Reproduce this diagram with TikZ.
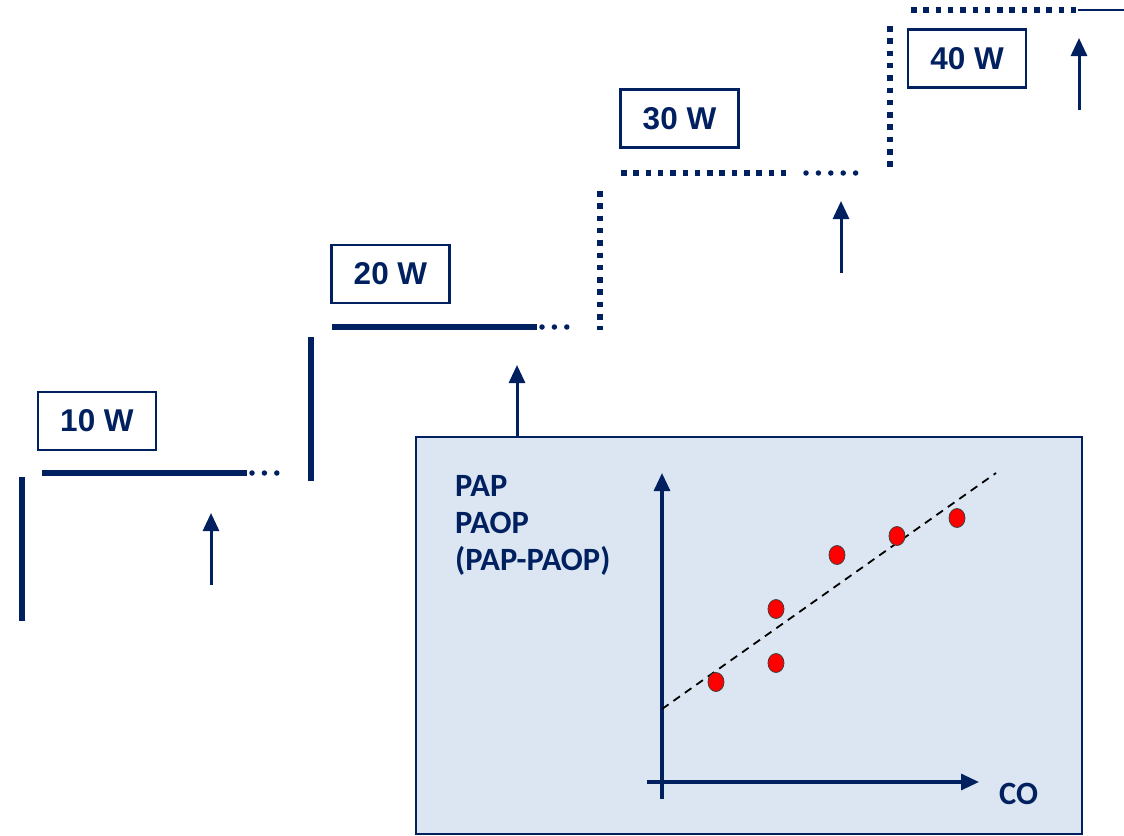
\documentclass[tikz,border=0pt]{standalone}
\usepackage{fontspec}
\setmainfont{Liberation Sans}
\newfontfamily\calibri{Carlito}
\usetikzlibrary{positioning,arrows.meta,calc,shapes.geometric}
\definecolor{navy}{HTML}{002060}
\definecolor{panel}{HTML}{DCE6F2}

\begin{document}
\begin{tikzpicture}[x=1pt,y=-1pt,>={Triangle[width=16pt,length=18pt]},
   wattbox/.style={draw=navy,text=navy,line width=2.2pt,minimum width=118pt,minimum height=58pt,
     inner sep=0pt,font=\fontsize{31.5}{34}\selectfont\bfseries},
   level/.style={draw=navy,line width=5.5pt},
   squares/.style={draw=navy,line width=5.5pt,dash pattern=on 5.5pt off 6.8pt},
   fade/.style={draw=navy,line width=5.5pt,line cap=round,dash pattern=on 0pt off 12.4pt},
   rise/.style={draw=navy,line width=3pt,->},
   axis/.style={draw=navy,line width=3.2pt},
   label/.style={text=navy,inner sep=0pt,font=\calibri\bfseries\fontsize{32.5}{37}\selectfont},
   dot/.style={ellipse,draw=black!75,fill=red,line width=0.8pt,inner sep=0pt,
     minimum width=16pt,minimum height=19pt}]
  \useasboundingbox (0,0) rectangle (1124,835);

  % power steps
  \node[wattbox] (w10) at (97,421)    {10 W};
  \node[wattbox] (w20) at (390.5,274) {20 W};
  \node[wattbox] (w30) at (679.5,118.5) {30 W};
  \node[wattbox] (w40) at (967,58.5)  {40 W};

  \coordinate (s10a) at (22,477);   \coordinate (s10b) at (22,621);
  \coordinate (l10a) at (42,473);   \coordinate (l10b) at (247,473);
  \coordinate (f10a) at (252,473);  \coordinate (f10b) at (278,473);
  \coordinate (s20a) at (311,337);  \coordinate (s20b) at (311,481);
  \coordinate (l20a) at (332,327);  \coordinate (l20b) at (537,327);
  \coordinate (f20a) at (542,327);  \coordinate (f20b) at (567,327);
  \coordinate (s30a) at (600,191);  \coordinate (s30b) at (600,330);
  \coordinate (l30a) at (621,173);  \coordinate (l30b) at (790,173);
  \coordinate (f30a) at (806,173);  \coordinate (f30b) at (857,173);
  \coordinate (s40a) at (890,26);   \coordinate (s40b) at (890,168);
  \coordinate (l40a) at (911,10);   \coordinate (l40b) at (1078,10);
  \coordinate (e40)  at (1124,10);

  \draw[level] (s10a) -- (s10b);
  \draw[level] (l10a) -- (l10b);
  \draw[fade]  (f10a) -- (f10b);
  \draw[level] (s20a) -- (s20b);
  \draw[level] (l20a) -- (l20b);
  \draw[fade]  (f20a) -- (f20b);
  \draw[squares] (s30a) -- (s30b);
  \draw[squares] (l30a) -- (l30b);
  \draw[fade]  (f30a) -- (f30b);
  \draw[squares] (s40a) -- (s40b);
  \draw[squares] (l40a) -- (l40b);
  \draw[navy,line width=1.8pt] (l40b) -- (e40);

  % regression panel
  \node[draw=navy,fill=panel,line width=1.8pt,minimum width=666pt,minimum height=397pt,
    inner sep=0pt] (plot) at (749,635.5) {};

  \coordinate (r10a) at (211,585);  \coordinate (r10b) at (211,513);
  \coordinate (r20b) at (517,365);
  \coordinate (r30a) at (841,273);  \coordinate (r30b) at (841,201);
  \coordinate (r40a) at (1079,110); \coordinate (r40b) at (1079,38);
  \draw[rise] (r10a) -- (r10b);
  \draw[rise] (plot.north -| r20b) -- (r20b);
  \draw[rise] (r30a) -- (r30b);
  \draw[rise] (r40a) -- (r40b);

  \coordinate (ybot) at (662,799);  \coordinate (ytop) at (662,473);
  \coordinate (xlft) at (647,782);  \coordinate (xrgt) at (979,782);
  \draw[axis,->] (ybot) -- (ytop);
  \draw[axis,->] (xlft) -- (xrgt);

  \node[label,align=left,anchor=north west] (ylab) at (455,475) {PAP\\PAOP\\(PAP-PAOP)};
  \node[label,anchor=base west] (xlab) at (999,804) {CO};

  \coordinate (fita) at (662,709);  \coordinate (fitb) at (996,473);
  \draw[black,line width=1.8pt,dash pattern=on 8pt off 6pt] (fita) -- (fitb);

  \foreach \px/\py [count=\i] in {716/682,776/609,776/663,837/555,897/536,957/518}
    \node[dot] (d\i) at (\px,\py) {};
\end{tikzpicture}
\end{document}
